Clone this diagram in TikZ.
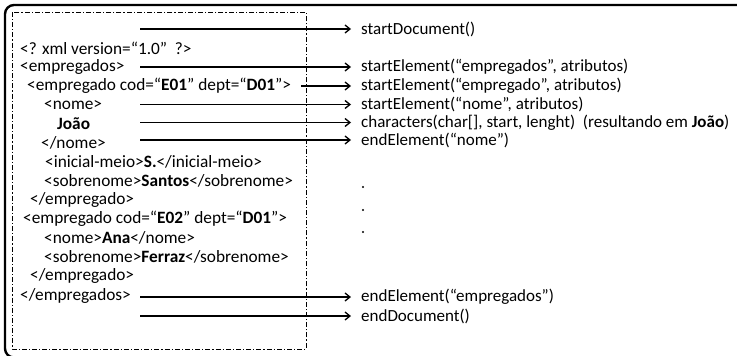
\documentclass[tikz,border=0pt]{standalone}
\usepackage{fontspec}
\setmainfont{Carlito}
\usetikzlibrary{arrows.meta}
\begin{document}
\begin{tikzpicture}[x=1pt,y=-1pt,
  txt/.style={anchor=west,inner sep=0pt,font=\fontsize{17.3}{19}\selectfont},
  evt/.style={anchor=west,inner sep=0pt,font=\fontsize{17}{19}\selectfont},
  flow/.style={line width=1.3pt,-{Straight Barb[length=5pt,width=8pt,line width=1.3pt]}},
  dashbox/.style={line width=0.9pt,dash pattern=on 5pt off 2pt on 1.2pt off 2pt}]
\useasboundingbox (0,0) rectangle (737,356);
\clip (0,0) rectangle (737,356);
% outer frame
\draw[line width=2.4pt,rounded corners=9pt] (5,5) rectangle (800,357.5);
% document box
\draw[dashbox] (12,12) rectangle (306,349);
% XML lines
\node[txt] (l1) at (20,48) {<? xml version=“1.0”\ \ ?>};
\node[txt] (l2) at (20,67) {<empregados>};
\node[txt] (l3) at (27,86) {<empregado cod=“\textbf{E01}” dept=“\textbf{D01}”>};
\node[txt] (l4) at (44,105) {<nome>};
\node[txt] (l5) at (57,124) {\textbf{João}};
\node[txt] (l6) at (41,143) {</nome>};
\node[txt] (l7) at (45,162) {<inicial-meio>\textbf{S.}</inicial-meio>};
\node[txt] (l8) at (44,181) {<sobrenome>\textbf{Santos}</sobrenome>};
\node[txt] (l9) at (30,200) {</empregado>};
\node[txt] (l10) at (23,219) {<empregado cod=“\textbf{E02}” dept=“\textbf{D01}”>};
\node[txt] (l11) at (44,238) {<nome>\textbf{Ana}</nome>};
\node[txt] (l12) at (44,257) {<sobrenome>\textbf{Ferraz}</sobrenome>};
\node[txt] (l13) at (30,276) {</empregado>};
\node[txt] (l14) at (20,296) {</empregados>};
% events
\node[evt] (e1) at (361,29) {startDocument()};
\node[evt] (e2) at (361,67) {startElement(“empregados”,\ atributos)};
\node[evt] (e3) at (361,86) {startElement(“empregado”,\ atributos)};
\node[evt] (e4) at (361,104.5) {startElement(“nome”,\ atributos)};
\node[evt] (e5) at (361,122.5) {characters(char[], start, lenght)\ \ (resultando em \textbf{João})};
\node[evt] (e6) at (361,140) {endElement(“nome”)};
\node[evt] (e7) at (361,297) {endElement(“empregados”)};
\node[evt] (e8) at (361,316) {endDocument()};
% dots
\fill (363,187) circle (1.2pt) (363,210) circle (1.2pt) (363,232) circle (1.2pt);
% arrow starts
\coordinate (s1) at (140,29);
\coordinate (s2) at (140,67);
\coordinate (s3) at (301,86);
\coordinate (s4) at (140,104.5);
\coordinate (s5) at (140,122.5);
\coordinate (s6) at (140,140);
\coordinate (s7) at (140,297);
\coordinate (s8) at (140,316);
\foreach \i in {1,...,8} {\draw[flow] (s\i) -- ([xshift=-10pt]e\i.west);}
\end{tikzpicture}
\end{document}
